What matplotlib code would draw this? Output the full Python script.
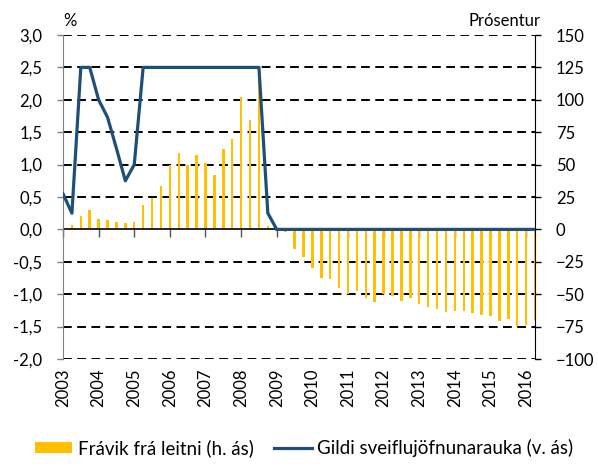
import numpy as np
import matplotlib
matplotlib.use("Agg")
import matplotlib.pyplot as plt

plt.rcParams['font.family'] = ['Lato', 'DejaVu Sans']

# Quarterly data, 2003Q1 - 2016Q2
years = [str(y) for y in range(2003, 2017)]

# Frávik frá leitni (right axis, Prósentur)
fravik = [3.9, 3.4, 10.3, 14.9, 8.0, 7.5, 5.9, 4.7, 5.5, 18.8,
          24.4, 33.4, 49.6, 59.1, 49.6, 57.1, 50.9, 41.9, 61.7, 69.7,
          102.3, 84.3, 120.0, 2.8, -1.5, -2.3, -15.4, -21.6, -29.6, -37.3,
          -38.0, -45.0, -49.9, -47.8, -52.8, -56.3, -50.2, -51.4, -55.5, -52.9,
          -57.9, -60.0, -61.2, -64.0, -63.3, -62.7, -64.2, -66.0, -66.8, -70.4,
          -69.4, -74.8, -73.8, -70.0]

# Gildi sveiflujöfnunarauka (left axis, %)
gildi = [0.55, 0.25, 2.5, 2.5, 2.0, 1.73, 1.25, 0.75, 1.0, 2.5,
         2.5, 2.5, 2.5, 2.5, 2.5, 2.5, 2.5, 2.5, 2.5, 2.5,
         2.5, 2.5, 2.5, 0.25, 0, 0, 0, 0, 0, 0,
         0, 0, 0, 0, 0, 0, 0, 0, 0, 0,
         0, 0, 0, 0, 0, 0, 0, 0, 0, 0,
         0, 0, 0, 0]

x = np.arange(len(fravik))
orange = '#FFC000'
blue = '#1F4E79'

fig = plt.figure(figsize=(5.98, 4.66), dpi=100)
ax_bar = fig.add_axes([63/598, 1-359/466, 472/598, 324/466])
ax_line = ax_bar.twinx()

# bars on right axis
ax_bar.bar(x, fravik, width=0.28, color=orange, zorder=2,
           label='Frávik frá leitni (h. ás)')
ax_bar.set_ylim(-100, 150)
ax_bar.set_yticks(np.arange(-100, 151, 25))
ax_bar.set_xlim(0, len(x) - 1)
ax_bar.yaxis.tick_right()
ax_bar.tick_params(axis='y', direction='out', length=4, width=1,
                   pad=11, labelsize=12, colors='black')

# dashed gridlines
for v in np.arange(-100, 151, 25):
    if v != 0:
        ax_bar.axhline(v, color='black', lw=1.4, ls=(0, (4.5, 2.8)), zorder=1)
ax_bar.axhline(0, color='black', lw=1.2, zorder=3)

# x ticks on zero line, labels at bottom from the twin axis
ax_bar.spines['bottom'].set_position(('data', 0))
ax_bar.spines['bottom'].set_visible(False)
ax_bar.set_xticks(x[::4])
ax_bar.tick_params(axis='x', direction='out', length=6, width=1,
                   color='#555555', labelbottom=False)
ax_bar.spines['top'].set_visible(False)
ax_bar.spines['left'].set_visible(False)
ax_bar.spines['right'].set_color('black')

# line on left axis
ax_line.plot(x, gildi, color=blue, lw=2.3, zorder=4,
             label='Gildi sveiflujöfnunarauka (v. ás)')
ax_line.set_ylim(-2, 3)
ax_line.set_yticks(np.arange(-2, 3.01, 0.5))
ax_line.set_yticklabels([f'{v:.1f}'.replace('.', ',') for v in np.arange(-2, 3.01, 0.5)])
ax_line.yaxis.tick_left()
ax_line.tick_params(axis='y', direction='out', length=4, width=1,
                    color='#808080', pad=11, labelsize=12)
ax_line.spines['left'].set_visible(True)
ax_line.spines['left'].set_color('#808080')
ax_line.spines['right'].set_visible(False)
ax_line.spines['top'].set_visible(False)
ax_line.spines['bottom'].set_visible(False)

ax_line.xaxis.set_visible(True)
ax_line.set_xticks(x[::4])
ax_line.set_xticklabels(years, rotation=90)
ax_line.tick_params(axis='x', length=0, pad=7, labelsize=12)

fig.text(70/598, 1-26/466, '%', fontsize=12, ha='center', va='baseline')
fig.text(541/598, 1-26/466, 'Prósentur', fontsize=12, ha='right', va='baseline')

h1, l1 = ax_bar.get_legend_handles_labels()
h2, l2 = ax_line.get_legend_handles_labels()
fig.legend(h1 + h2, l1 + l2, loc='center', bbox_to_anchor=(304/598, 1-448/466),
           ncol=2, frameon=False, fontsize=13.5, handlelength=2.0,
           handleheight=0.55, columnspacing=1.1, handletextpad=0.3,
           borderpad=0, borderaxespad=0)

fig.savefig('out.png', dpi=100)
